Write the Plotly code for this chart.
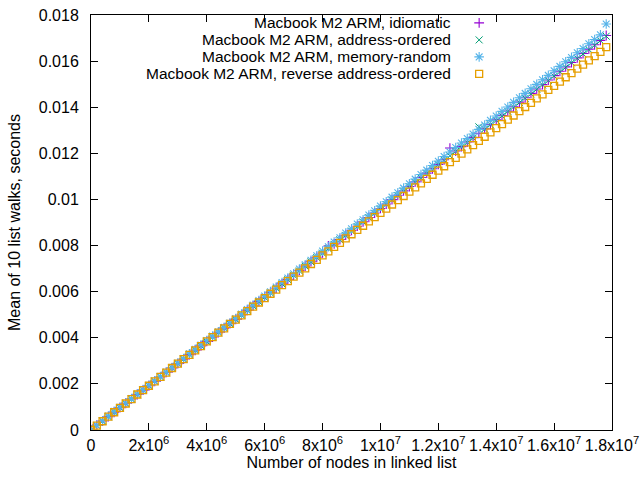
import plotly.graph_objects as go

nodes = [0, 200000, 400000, 600000, 800000, 1000000, 1200000, 1400000, 1600000, 1800000,
         2000000, 2200000, 2400000, 2600000, 2800000, 3000000, 3200000, 3400000, 3600000, 3800000,
         4000000, 4200000, 4400000, 4600000, 4800000, 5000000, 5200000, 5400000, 5600000, 5800000,
         6000000, 6200000, 6400000, 6600000, 6800000, 7000000, 7200000, 7400000, 7600000, 7800000,
         8000000, 8200000, 8400000, 8600000, 8800000, 9000000, 9200000, 9400000, 9600000, 9800000,
         10000000, 10200000, 10400000, 10600000, 10800000, 11000000, 11200000, 11400000, 11600000, 11800000,
         12000000, 12200000, 12400000, 12600000, 12800000, 13000000, 13200000, 13400000, 13600000, 13800000,
         14000000, 14200000, 14400000, 14600000, 14800000, 15000000, 15200000, 15400000, 15600000, 15800000,
         16000000, 16200000, 16400000, 16600000, 16800000, 17000000, 17200000, 17400000, 17600000, 17800000]

idiomatic = [0.0, 0.00021, 0.00039, 0.00058, 0.00077, 0.00097, 0.00116, 0.00135, 0.00154, 0.00173,
             0.00192, 0.00211, 0.00230, 0.00250, 0.00269, 0.00288, 0.00307, 0.00327, 0.00346, 0.00365,
             0.00384, 0.00403, 0.00422, 0.00442, 0.00461, 0.00480, 0.00499, 0.00519, 0.00538, 0.00557,
             0.00576, 0.00596, 0.00615, 0.00634, 0.00653, 0.00672, 0.00692, 0.00711, 0.00730, 0.00749,
             0.00768, 0.00798, 0.00807, 0.00826, 0.00845, 0.00866, 0.00884, 0.00903, 0.00922, 0.00941,
             0.00961, 0.00980, 0.00999, 0.01018, 0.01037, 0.01056, 0.01076, 0.01095, 0.01114, 0.01133,
             0.01152, 0.01172, 0.01223, 0.01210, 0.01229, 0.01249, 0.01268, 0.01287, 0.01306, 0.01325,
             0.01345, 0.01364, 0.01383, 0.01402, 0.01422, 0.01441, 0.01460, 0.01479, 0.01498, 0.01518,
             0.01537, 0.01556, 0.01575, 0.01594, 0.01614, 0.01633, 0.01652, 0.01671, 0.01690, 0.01711]

address_ordered = [0.0, 0.00019, 0.00038, 0.00057, 0.00076, 0.00096, 0.00115, 0.00134, 0.00153, 0.00172,
                   0.00191, 0.00211, 0.00230, 0.00249, 0.00268, 0.00288, 0.00307, 0.00326, 0.00345, 0.00364,
                   0.00383, 0.00403, 0.00422, 0.00441, 0.00460, 0.00479, 0.00498, 0.00518, 0.00537, 0.00556,
                   0.00575, 0.00594, 0.00614, 0.00633, 0.00652, 0.00671, 0.00690, 0.00710, 0.00729, 0.00748,
                   0.00767, 0.00786, 0.00805, 0.00825, 0.00844, 0.00863, 0.00882, 0.00902, 0.00921, 0.00940,
                   0.00959, 0.00978, 0.00997, 0.01017, 0.01036, 0.01055, 0.01074, 0.01093, 0.01113, 0.01132,
                   0.01151, 0.01170, 0.01189, 0.01209, 0.01228, 0.01247, 0.01266, 0.01315, 0.01305, 0.01324,
                   0.01343, 0.01362, 0.01382, 0.01401, 0.01420, 0.01439, 0.01458, 0.01478, 0.01497, 0.01516,
                   0.01535, 0.01554, 0.01573, 0.01593, 0.01612, 0.01631, 0.01650, 0.01669, 0.01689, 0.01708]

memory_random = [0.0, 0.00020, 0.00040, 0.00061, 0.00081, 0.00099, 0.00117, 0.00136, 0.00156, 0.00175,
                 0.00194, 0.00213, 0.00232, 0.00251, 0.00271, 0.00290, 0.00310, 0.00331, 0.00350, 0.00369,
                 0.00388, 0.00407, 0.00426, 0.00445, 0.00464, 0.00483, 0.00503, 0.00523, 0.00542, 0.00562,
                 0.00581, 0.00600, 0.00620, 0.00640, 0.00659, 0.00678, 0.00698, 0.00717, 0.00736, 0.00756,
                 0.00776, 0.00795, 0.00815, 0.00834, 0.00854, 0.00873, 0.00893, 0.00912, 0.00932, 0.00951,
                 0.00971, 0.00990, 0.01010, 0.01029, 0.01049, 0.01068, 0.01088, 0.01108, 0.01127, 0.01147,
                 0.01166, 0.01186, 0.01206, 0.01225, 0.01245, 0.01264, 0.01284, 0.01304, 0.01323, 0.01343,
                 0.01362, 0.01382, 0.01401, 0.01421, 0.01441, 0.01460, 0.01480, 0.01499, 0.01519, 0.01538,
                 0.01558, 0.01577, 0.01597, 0.01616, 0.01636, 0.01655, 0.01675, 0.01694, 0.01714, 0.01761]

reverse_address_ordered = [0.0, 0.00019, 0.00038, 0.00058, 0.00077, 0.00096, 0.00115, 0.00134, 0.00154, 0.00173,
                           0.00192, 0.00211, 0.00230, 0.00249, 0.00269, 0.00288, 0.00307, 0.00326, 0.00345, 0.00364,
                           0.00384, 0.00403, 0.00422, 0.00441, 0.00460, 0.00479, 0.00497, 0.00516, 0.00535, 0.00553,
                           0.00572, 0.00591, 0.00609, 0.00628, 0.00646, 0.00665, 0.00683, 0.00701, 0.00720, 0.00738,
                           0.00757, 0.00775, 0.00794, 0.00812, 0.00831, 0.00849, 0.00868, 0.00886, 0.00905, 0.00923,
                           0.00942, 0.00960, 0.00978, 0.00997, 0.01015, 0.01034, 0.01052, 0.01070, 0.01089, 0.01107,
                           0.01125, 0.01144, 0.01162, 0.01180, 0.01199, 0.01217, 0.01236, 0.01254, 0.01272, 0.01291,
                           0.01309, 0.01327, 0.01346, 0.01364, 0.01383, 0.01401, 0.01419, 0.01438, 0.01456, 0.01475,
                           0.01493, 0.01511, 0.01530, 0.01548, 0.01567, 0.01585, 0.01603, 0.01622, 0.01640, 0.01661]

series_names = ["Macbook M2 ARM, idiomatic",
                "Macbook M2 ARM, address-ordered",
                "Macbook M2 ARM, memory-random",
                "Macbook M2 ARM, reverse address-ordered"]

x_tick_vals = [0, 2e6, 4e6, 6e6, 8e6, 1e7, 1.2e7, 1.4e7, 1.6e7, 1.8e7]
x_tick_text = ["0", "2x10<sup>6</sup>", "4x10<sup>6</sup>", "6x10<sup>6</sup>", "8x10<sup>6</sup>",
               "1x10<sup>7</sup>", "1.2x10<sup>7</sup>", "1.4x10<sup>7</sup>", "1.6x10<sup>7</sup>",
               "1.8x10<sup>7</sup>"]
y_tick_vals = [0, 0.002, 0.004, 0.006, 0.008, 0.01, 0.012, 0.014, 0.016, 0.018]
y_tick_text = ["0", "0.002", "0.004", "0.006", "0.008", "0.01", "0.012", "0.014", "0.016", "0.018"]

colors = ["#9400d3", "#009e73", "#56b4e9", "#e69f00"]
symbols = ["cross-thin-open", "x-thin-open", "asterisk-open", "square-open"]
sizes = [7, 7, 8, 7]
widths = [1.1, 1.0, 1.1, 1.3]
all_series = [idiomatic, address_ordered, memory_random, reverse_address_ordered]

FONT = "Liberation Sans, Arial, sans-serif"
FS = 16
fig = go.Figure()
for vals, name, c, s, sz, w in zip(all_series, series_names, colors, symbols, sizes, widths):
    fig.add_trace(go.Scatter(x=nodes, y=vals, mode="markers", name=name, showlegend=False,
                             marker=dict(symbol=s, size=sz, color=c, line=dict(color=c, width=w))))

# legend (gnuplot style: text right-aligned, sample on the right)
leg_y = [0.981, 0.940, 0.899, 0.858]
for name, c, s, sz, w, ly in zip(series_names, colors, symbols, sizes, widths, leg_y):
    fig.add_trace(go.Scatter(x=[0.745], y=[ly], xaxis="x2", yaxis="y2", mode="markers",
                             showlegend=False, hoverinfo="skip",
                             marker=dict(symbol=s, size=sz, color=c, line=dict(color=c, width=w))))
    fig.add_annotation(x=0.693, y=ly, xref="paper", yref="paper", text=name, showarrow=False,
                       xanchor="right", yanchor="middle", borderpad=0,
                       font=dict(size=15.5, color="#000000", family=FONT))

axis_common = dict(showline=True, linecolor="black", linewidth=1, mirror="ticks", ticks="inside",
                   ticklen=7, tickcolor="black", showgrid=False, zeroline=False, automargin=False,
                   tickfont=dict(size=FS, color="#000000", family=FONT))
fig.update_layout(
    width=640, height=480,
    margin=dict(l=91, r=28, t=15, b=50),
    plot_bgcolor="white", paper_bgcolor="white",
    font=dict(family=FONT, size=FS, color="#000000"),
    xaxis=dict(range=[0, 1.8e7], tickvals=x_tick_vals, ticktext=x_tick_text,
               title=dict(text="Number of nodes in linked list", standoff=2,
                          font=dict(size=FS, color="#000000", family=FONT)),
               ticklabelstandoff=1, **axis_common),
    yaxis=dict(range=[0, 0.018], tickvals=y_tick_vals, ticktext=y_tick_text,
               title=dict(text="Mean of 10 list walks, seconds", standoff=14,
                          font=dict(size=FS, color="#000000", family=FONT)),
               ticklabelstandoff=8, **axis_common),
    xaxis2=dict(range=[0, 1], overlaying="x", visible=False, fixedrange=True),
    yaxis2=dict(range=[0, 1], overlaying="y", visible=False, fixedrange=True),
    showlegend=False,
    hovermode=False,
)
fig.write_html("out.html", config={"displayModeBar": False},
               post_script="document.body.style.margin='0';document.body.style.padding='0';")
